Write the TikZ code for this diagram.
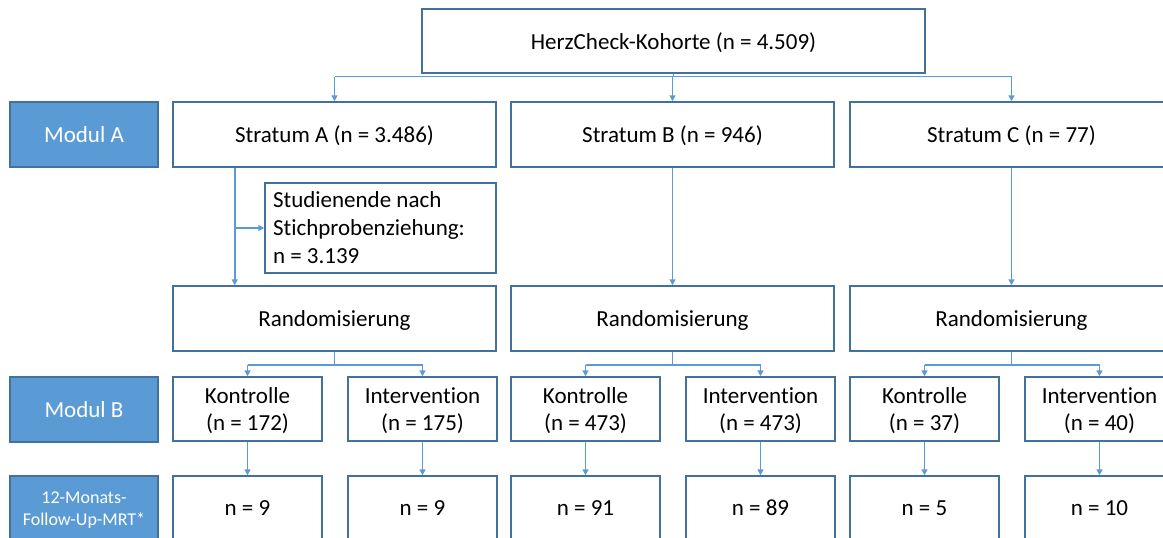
\documentclass[tikz,border=0pt]{standalone}
\usepackage{fontspec}
\setmainfont{Carlito}[Ligatures=NoCommon]
\usetikzlibrary{arrows.meta}
\definecolor{boxline}{HTML}{41719C}
\definecolor{modfill}{HTML}{5B9BD5}
\definecolor{connline}{HTML}{5B9BD5}
\begin{document}
\begin{tikzpicture}[x=1pt,y=-1pt,
  box/.style={draw=boxline, line width=1.5pt, fill=white, inner sep=0pt,
    text depth=0pt, font=\fontsize{23}{27}\selectfont, align=center},
  numbox/.style={box, text height=14pt, minimum width=149, minimum height=65},
  modbox/.style={box, fill=modfill, text=white},
  conn/.style={draw=connline, line width=1.5pt},
  arr/.style={conn, -{Triangle[length=6pt,width=6pt]}},
]
\useasboundingbox (0,0) rectangle (1163,538);
\clip (0,0) rectangle (1163,538);
\fill[white] (0,0) rectangle (1163,538);

% cohort
\node[box, minimum width=503, minimum height=64] (top) at (673.5,41) {HerzCheck-Kohorte (n = 4.509)};

% row labels
\node[modbox, minimum width=148, minimum height=65] (mA) at (84,134.5) {Modul A};
\node[modbox, minimum width=148, minimum height=65] (mB) at (84,409.5) {Modul B};
\node[modbox, minimum width=148, minimum height=65, font=\fontsize{18}{22}\selectfont] (mC) at (84,508.5) {12-Monats-\\Follow-Up-MRT*};

% strata
\node[box, minimum width=323, minimum height=65] (sA) at (334.5,134.5) {Stratum A (n = 3.486)};
\node[box, minimum width=323, minimum height=65] (sB) at (672.5,134.5) {Stratum B (n = 946)};
\node[box, minimum width=323, minimum height=65] (sC) at (1011.5,134.5) {Stratum C (n = 77)};

% study end box
\node[box, text depth=, minimum width=231, minimum height=90, text width=215, align=flush left,
  font=\fontsize{23}{28}\selectfont] (sd) at (380.5,228) {Studienende nach\\Stichprobenziehung:\\n = 3.139};

% randomisation
\node[box, minimum width=323, minimum height=65] (rA) at (334.5,318.5) {Randomisierung};
\node[box, minimum width=323, minimum height=65] (rB) at (672.5,318.5) {Randomisierung};
\node[box, minimum width=323, minimum height=65] (rC) at (1011.5,318.5) {Randomisierung};

% groups
\node[box, minimum width=149, minimum height=64] (kA) at (247.5,409) {Kontrolle\\(n = 172)};
\node[box, minimum width=149, minimum height=64] (iA) at (422.5,409) {Intervention\\(n = 175)};
\node[box, minimum width=149, minimum height=64] (kB) at (585.5,409) {Kontrolle\\(n = 473)};
\node[box, minimum width=149, minimum height=64] (iB) at (760.5,409) {Intervention\\(n = 473)};
\node[box, minimum width=149, minimum height=64] (kC) at (924.5,409) {Kontrolle\\(n = 37)};
\node[box, minimum width=149, minimum height=64] (iC) at (1099.5,409) {Intervention\\(n = 40)};

% follow-up MRI
\node[numbox] (fkA) at (247.5,508.5) {n = 9};
\node[numbox] (fiA) at (422.5,508.5) {n = 9};
\node[numbox] (fkB) at (585.5,508.5) {n = 91};
\node[numbox] (fiB) at (760.5,508.5) {n = 89};
\node[numbox] (fkC) at (924.5,508.5) {n = 5};
\node[numbox] (fiC) at (1099.5,508.5) {n = 10};

% cohort to strata
\coordinate (tj) at (673.5,76.5);
\draw[conn] (top.south) -- (tj);
\draw[conn] (tj -| sA.north) -- (tj -| sC.north);
\draw[arr] (tj -| sA.north) -- (sA.north);
\draw[arr] (tj -| sB.north) -- (sB.north);
\draw[arr] (tj -| sC.north) -- (sC.north);

% stratum A with study end branch
\coordinate (aL) at ([xshift=62.5pt]sA.south west);
\draw[arr] (aL) -- (aL |- rA.north);
\draw[arr] (aL |- sd.west) -- (sd.west);

% strata B and C to randomisation
\draw[arr] (sB.south) -- (rB.north);
\draw[arr] (sC.south) -- (rC.north);

% randomisation splits
\foreach \r/\k/\i in {rA/kA/iA, rB/kB/iB, rC/kC/iC}{
  \coordinate (\r j) at ([yshift=-13pt]\r.south);
  \draw[conn] (\r.south) -- (\r j);
  \draw[conn] (\r j -| \k.north) -- (\r j -| \i.north);
  \draw[arr] (\r j -| \k.north) -- (\k.north);
  \draw[arr] (\r j -| \i.north) -- (\i.north);
}

% groups to follow-up
\foreach \g in {kA,iA,kB,iB,kC,iC}{
  \draw[arr] (\g.south) -- (f\g.north);
}
\end{tikzpicture}
\end{document}
